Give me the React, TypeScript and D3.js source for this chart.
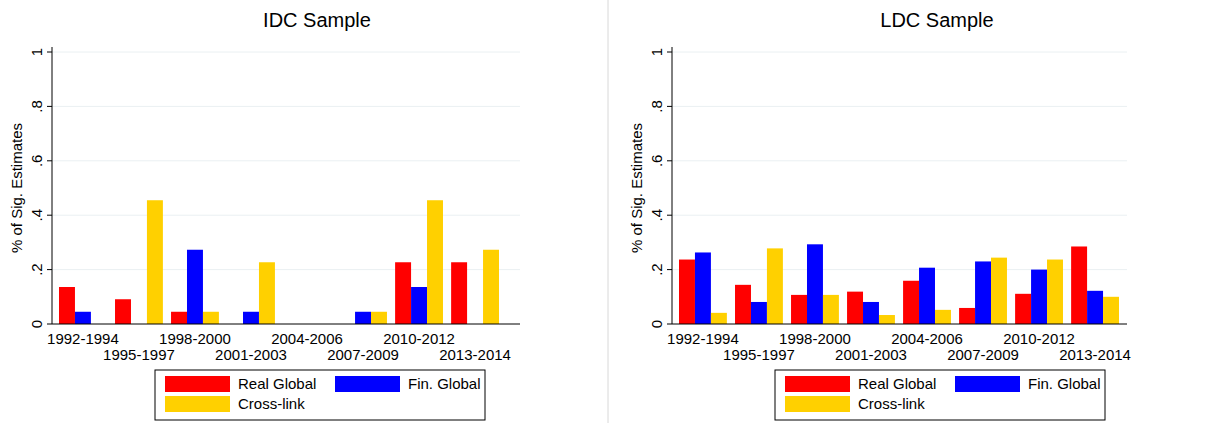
import * as d3 from "d3";

const periods = ["1992-1994", "1995-1997", "1998-2000", "2001-2003", "2004-2006", "2007-2009", "2010-2012", "2013-2014"];
const seriesNames = ["Real Global", "Fin. Global", "Cross-link"];
const colors = ["#ff0000", "#0000ff", "#ffd000"];

const idcReal = [0.136, 0.091, 0.045, 0, 0, 0, 0.227, 0.227];
const idcFin = [0.045, 0, 0.273, 0.045, 0, 0.045, 0.136, 0];
const idcCross = [0, 0.455, 0.045, 0.227, 0, 0.045, 0.455, 0.273];

const ldcReal = [0.237, 0.144, 0.107, 0.119, 0.159, 0.059, 0.111, 0.285];
const ldcFin = [0.263, 0.081, 0.293, 0.081, 0.207, 0.23, 0.2, 0.122];
const ldcCross = [0.041, 0.278, 0.107, 0.033, 0.052, 0.244, 0.237, 0.1];

const yTicks = [0, 0.2, 0.4, 0.6, 0.8, 1];
const font = "Arial, 'Liberation Sans', sans-serif";

function Panel({ ox, title, data, w }: { ox: number; title: string; data: number[][]; w: number }) {
  const left = ox + 52;
  const right = ox + w;
  const y = d3.scaleLinear().domain([0, 1]).range([324, 52]);
  const x0 = d3.scaleBand().domain(periods).range([left + 7, left + 7 + 55 * 8]).paddingInner(8 / 55).paddingOuter(0);
  const x1 = d3.scaleBand().domain(seriesNames).range([0, x0.bandwidth()]);
  const lx = ox + 155;
  return (
    <g fontFamily={font}>
      <text x={ox + 317} y={27} textAnchor="middle" fontSize={20}>{title}</text>
      {yTicks.map((t) => (
        <g key={t}>
          {t > 0 && <line x1={left} x2={right} y1={y(t)} y2={y(t)} stroke="#eaf0f2" />}
          <line x1={left - 5} x2={left} y1={y(t)} y2={y(t)} stroke="#000" />
          <text transform={`translate(${left - 10},${y(t)}) rotate(-90)`} textAnchor="middle" fontSize={15}>
            {t === 0 ? "0" : t === 1 ? "1" : d3.format(".1f")(t).replace(/^0/, "")}
          </text>
        </g>
      ))}
      <text transform={`translate(${ox + 22},188) rotate(-90)`} textAnchor="middle" fontSize={15}>% of Sig. Estimates</text>
      {periods.map((p, i) =>
        data.map((vals, s) => (
          <rect key={p + s} x={x0(p)! + x1(seriesNames[s])!} width={x1.bandwidth()} y={y(vals[i])} height={y(0) - y(vals[i])} fill={colors[s]} />
        ))
      )}
      <line x1={left} x2={left} y1={y(1) - 5} y2={y(0)} stroke="#000" />
      <line x1={left} x2={right} y1={y(0)} y2={y(0)} stroke="#000" />
      {periods.map((p, i) => (
        <text key={p} x={x0(p)! + x0.bandwidth() / 2} y={i % 2 === 0 ? 344 : 360} textAnchor="middle" fontSize={15}>{p}</text>
      ))}
      <rect x={lx} y={370} width={330} height={50} fill="#fff" stroke="#000" />
      {seriesNames.map((n, s) => {
        const cx = lx + 10 + (s === 1 ? 170 : 0);
        const cy = 376 + (s === 2 ? 20 : 0);
        return (
          <g key={n}>
            <rect x={cx} y={cy} width={65} height={16} fill={colors[s]} />
            <text x={cx + 73} y={cy + 13} fontSize={15}>{n}</text>
          </g>
        );
      })}
    </g>
  );
}

export default function App() {
  return (
    <svg width={1225} height={423} style={{ position: "absolute", left: 0, top: 0, background: "#fff" }}>
      <rect width={1225} height={423} fill="#fff" />
      <Panel ox={0} title="IDC Sample" data={[idcReal, idcFin, idcCross]} w={520} />
      <line x1={608} x2={608} y1={0} y2={423} stroke="#d8d8d8" />
      <Panel ox={620} title="LDC Sample" data={[ldcReal, ldcFin, ldcCross]} w={507} />
    </svg>
  );
}
